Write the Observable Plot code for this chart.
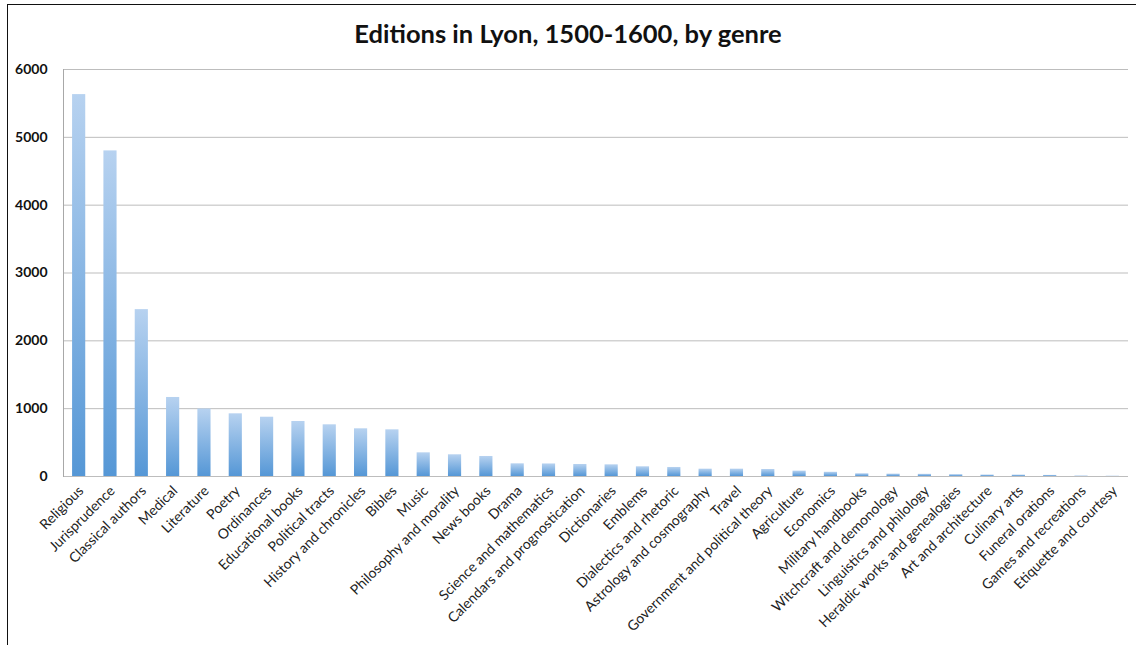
<!DOCTYPE html>
<html>
<head>
<meta charset="utf-8">
<script src="https://cdn.jsdelivr.net/npm/d3@7"></script>
<script src="https://cdn.jsdelivr.net/npm/@observablehq/plot@0.6"></script>
<style>
  html, body { margin: 0; padding: 0; background: #fff; }
  #wrap { position: relative; width: 1136px; height: 645px; overflow: hidden; }
  #border { position: absolute; left: 7px; top: 4px; width: 1200px; height: 700px; border-left: 1.5px solid #111; border-top: 1.5px solid #111; box-sizing: border-box; }
  #title { position: absolute; left: 0; top: 18px; width: 1136px; text-align: center; font-family: Lato, "Open Sans", sans-serif; font-weight: bold; font-size: 25.5px; color: #111; }
  #chart { position: absolute; left: 0; top: 0; }
</style>
</head>
<body>
<div id="wrap">
  <div id="border"></div>
  <div id="title">Editions in Lyon, 1500-1600, by genre</div>
  <div id="chart"></div>
</div>
<script>
const genres = [
  "Religious", "Jurisprudence", "Classical authors", "Medical", "Literature", "Poetry",
  "Ordinances", "Educational books", "Political tracts", "History and chronicles", "Bibles",
  "Music", "Philosophy and morality", "News books", "Drama", "Science and mathematics",
  "Calendars and prognostication", "Dictionaries", "Emblems", "Dialectics and rhetoric",
  "Astrology and cosmography", "Travel", "Government and political theory", "Agriculture",
  "Economics", "Military handbooks", "Witchcraft and demonology", "Linguistics and philology",
  "Heraldic works and genealogies", "Art and architecture", "Culinary arts", "Funeral orations",
  "Games and recreations", "Etiquette and courtesy"
];
const editions = [
  5630, 4800, 2460, 1165, 995, 924,
  874, 811, 762, 703, 688,
  349, 320, 295, 187, 185,
  177, 172, 143, 133,
  108, 108, 103, 79,
  62, 40, 35, 32,
  27, 22, 21, 16,
  8, 5
];
const yTicks = [0, 1000, 2000, 3000, 4000, 5000, 6000];

const data = genres.map((g, i) => ({genre: g, value: editions[i]}));

const chart = Plot.plot({
  width: 1136,
  height: 645,
  marginTop: 69,
  marginBottom: 169,
  marginLeft: 63,
  marginRight: 8,
  style: {fontFamily: "Lato, 'Open Sans', sans-serif", background: "transparent"},
  x: {domain: genres, paddingInner: 0.58, paddingOuter: 0.29, round: false, label: null},
  y: {domain: [0, 6000], label: null},
  marks: [
    Plot.gridY(yTicks, {stroke: "#bdbdbd", strokeOpacity: 1, strokeWidth: 1}),
    Plot.frame({anchor: "left", stroke: "#a8a8a8"}),
    Plot.barY(data, {x: "genre", y: "value", fill: "url(#barGrad)"}),
    Plot.axisY(yTicks, {tickSize: 0, tickPadding: 16, fontSize: 14, fontWeight: "bold", fill: "#111", tickFormat: d => String(d), label: null}),
    Plot.axisX({tickSize: 0, tickPadding: 12, dx: 2, tickRotate: -45, fontSize: 14, fill: "#222", label: null})
  ]
});

const svgNS = "http://www.w3.org/2000/svg";
const defs = document.createElementNS(svgNS, "defs");
const grad = document.createElementNS(svgNS, "linearGradient");
grad.setAttribute("id", "barGrad");
grad.setAttribute("x1", "0"); grad.setAttribute("y1", "1");
grad.setAttribute("x2", "0"); grad.setAttribute("y2", "0");
[["0%", "#5597d6"], ["100%", "#b7d2f0"]].forEach(([o, c]) => {
  const s = document.createElementNS(svgNS, "stop");
  s.setAttribute("offset", o); s.setAttribute("stop-color", c);
  grad.appendChild(s);
});
defs.appendChild(grad);
chart.insertBefore(defs, chart.firstChild);
document.getElementById("chart").appendChild(chart);
</script>
</body>
</html>
